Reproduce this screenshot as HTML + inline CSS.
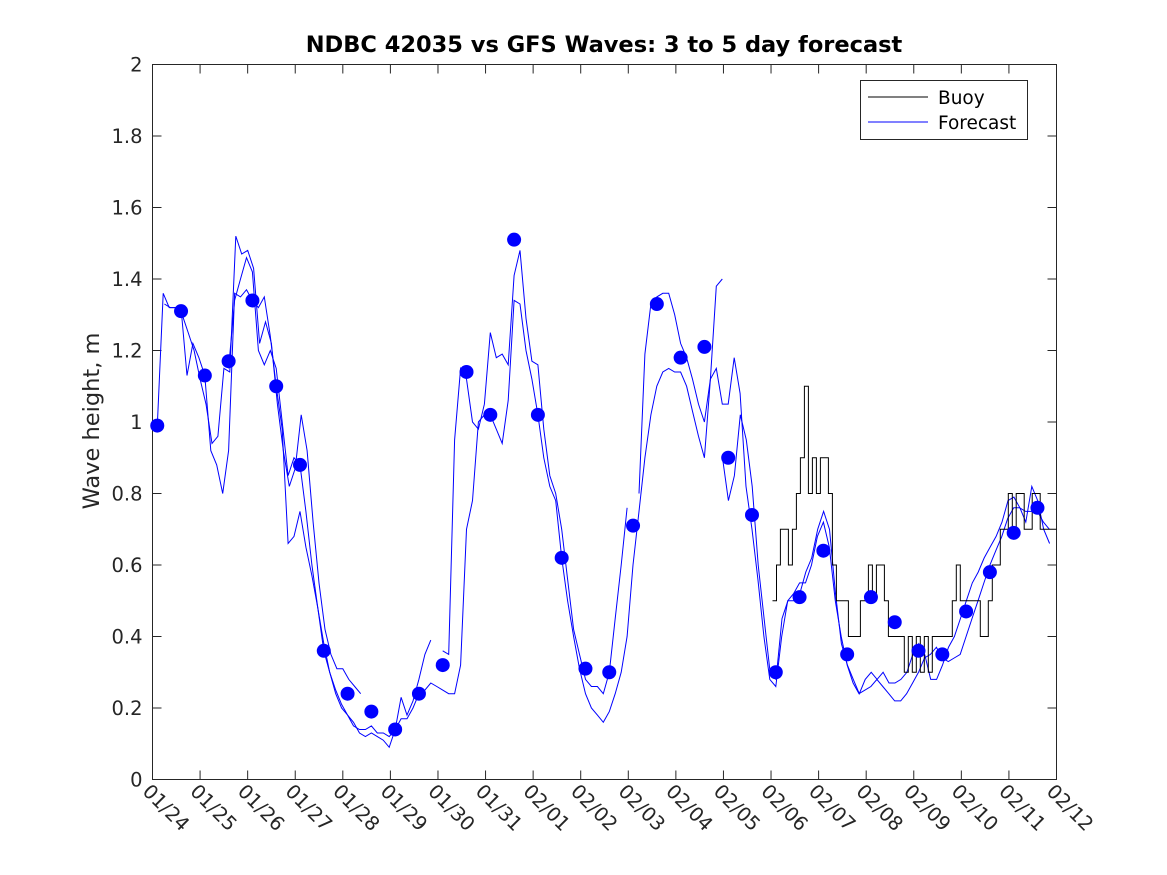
<!DOCTYPE html>
<html><head><meta charset="utf-8"><style>
html,body{margin:0;padding:0;background:#fff;}
svg{display:block;font-family:"DejaVu Sans","Liberation Sans",sans-serif;}
</style></head><body>
<svg id="chart" width="1167" height="875" viewBox="0 0 1167 875">
<rect x="0" y="0" width="1167" height="875" fill="#fff"/>
<rect x="152.5" y="64.5" width="904" height="715" fill="#fff"/>
<text x="604" y="52" text-anchor="middle" font-size="22.5" font-weight="bold" fill="#000">NDBC 42035 vs GFS Waves: 3 to 5 day forecast</text>
<text transform="translate(99,421) rotate(-90)" text-anchor="middle" font-size="22.5" fill="#262626">Wave height, m</text>
<g id="axes"></g>
<g id="marks"></g>
<rect x="860.5" y="80.5" width="167" height="59" fill="#fff" stroke="#262626" stroke-width="1"/>
<line x1="868" y1="97" x2="928" y2="97" stroke="#000" stroke-width="1"/>
<text x="938" y="104" font-size="18.5" fill="#000">Buoy</text>
<line x1="868" y1="122" x2="928" y2="122" stroke="#00f" stroke-width="1"/>
<text x="938" y="129" font-size="18.5" fill="#000">Forecast</text>
</svg>
<script>
const xTickLabels = ["01/24","01/25","01/26","01/27","01/28","01/29","01/30","01/31","02/01","02/02","02/03","02/04","02/05","02/06","02/07","02/08","02/09","02/10","02/11","02/12"];
const yTicks = [0,0.2,0.4,0.6,0.8,1,1.2,1.4,1.6,1.8,2];
const yTickLabels = ["0","0.2","0.4","0.6","0.8","1","1.2","1.4","1.6","1.8","2"];
const dotStart = 0.1, dotStep = 0.5;
const dotVals = [0.99,1.31,1.13,1.17,1.34,1.10,0.88,0.36,0.24,0.19,0.14,0.24,0.32,1.14,1.02,1.51,1.02,0.62,0.31,0.30,0.71,1.33,1.18,1.21,0.90,0.74,0.30,0.51,0.64,0.35,0.51,0.44,0.36,0.35,0.47,0.58,0.69,0.76];
const fcStep = 0.125;
const f1Start = 0.1;
const f1Vals = [0.99,1.36,1.32,1.32,1.32,1.13,1.22,1.18,1.13,0.92,0.88,0.80,0.92,1.36,1.35,1.37,1.34,1.32,1.35,1.24,1.10,0.98,0.66,0.68,0.75,0.65,0.57,0.48,0.36,0.30,0.25,0.21,0.18,0.16,0.13,0.12,0.13,0.12,0.11,0.09,0.14,0.17,0.17,0.20,0.24,0.25,0.27,0.26,0.25,0.24,0.24,0.32,0.70,0.78,1.00,1.02,1.02,0.98,0.94,1.06,1.34,1.33,1.20,1.12,1.02,0.90,0.82,0.78,0.62,0.50,0.40,0.31,0.24,0.20,0.18,0.16,0.19,0.24,0.30,0.40,0.60,0.75,0.90,1.02,1.10,1.14,1.15,1.14,1.14,1.10,1.03,0.96,0.90,1.12,1.38,1.40];
const f2Start = 0.25;
const f2Vals = [1.33,1.32,1.32,1.30,1.25,1.20,1.12,1.05,0.94,0.96,1.15,1.14,1.52,1.47,1.48,1.43,1.22,1.28,1.22,1.05,0.92,0.82,0.87,1.02,0.92,0.72,0.55,0.42,0.35,0.31,0.31,0.28,0.26,0.24];
const f3Start = 1.6;
const f3Vals = [1.15,1.34,1.40,1.46,1.42,1.20,1.16,1.20,1.15,1.00,0.85,0.90,0.88,0.75,0.60,0.48,0.38,0.30,0.24,0.20,0.18,0.15,0.14,0.14,0.15,0.13,0.13,0.12,0.14,0.23,0.18,0.22,0.28,0.35,0.39,null,0.36,0.35,0.95,1.15,1.12,1.00,0.98,1.05,1.25,1.18,1.19,1.16,1.41,1.48,1.29,1.17,1.16,0.98,0.85,0.80,0.70,0.56,0.42,0.35,0.28,0.26,0.26,0.24,0.30,0.45,0.60,0.76,null,0.80,1.19,1.33,1.35,1.36,1.36,1.30,1.22,1.18,1.12,1.05,1.00,1.12,1.15,1.05,1.05,1.18,1.08,0.82,0.70,0.56,0.40,0.28,0.26,0.40,0.50,0.52,0.55,0.55,0.60,0.68,0.72,0.65,0.50,0.40,0.32,0.27,0.24,0.25,0.26,0.28,0.26,0.24,0.22,0.22,0.24,0.27,0.30,0.34,0.35,0.37,0.34,0.33,0.34,0.35,0.40,0.45,0.50,0.55,0.60,0.64,0.68,0.73,0.76,0.76,0.75,0.75,0.75,0.72,0.70];
const f4Start = 11.98;
const f4Vals = [0.90,0.78,0.85,1.02,0.95,0.82,0.60,0.45,0.30,0.28,0.45,0.50,0.50,0.52,0.58,0.62,0.70,0.75,0.70,0.52,0.38,0.32,0.28,0.24,0.28,0.30,0.28,0.30,0.27,0.27,0.28,0.30,0.35,0.38,0.35,0.28,0.28,0.32,0.37,0.40,0.45,0.50,0.55,0.58,0.62,0.65,0.68,0.72,0.78,0.79,0.76,0.72,0.82,0.78,0.70,0.66];
const buoyStart = 13.03, buoyStep = 0.084;
const buoyVals = [0.5,0.6,0.7,0.7,0.6,0.7,0.8,0.9,1.1,0.8,0.9,0.8,0.9,0.9,0.8,0.6,0.5,0.5,0.5,0.4,0.4,0.4,0.5,0.5,0.6,0.5,0.6,0.6,0.5,0.4,0.4,0.4,0.4,0.3,0.4,0.3,0.4,0.3,0.4,0.3,0.4,0.4,0.4,0.4,0.4,0.5,0.6,0.5,0.5,0.5,0.5,0.5,0.4,0.4,0.5,0.6,0.6,0.7,0.7,0.8,0.7,0.8,0.8,0.7,0.7,0.8,0.8,0.7,0.7,0.7,0.7,0.7];

const X0=152.5, X1=1056.5, Y0=779.5, Y1=64.5;
function xs(d){return X0+(d/19)*(X1-X0);}
function ys(v){return Y0-(v/2)*(Y0-Y1);}
const NS="http://www.w3.org/2000/svg";
const axes=document.getElementById('axes'), marks=document.getElementById('marks');
function mk(tag,attrs,parent){const e=document.createElementNS(NS,tag);for(const k in attrs)e.setAttribute(k,attrs[k]);parent.appendChild(e);return e;}

const frame=mk('rect',{x:X0,y:Y1,width:X1-X0,height:Y0-Y1,fill:'none',stroke:'#262626','stroke-width':1},axes);


xTickLabels.forEach((lab,i)=>{
  const x=xs(i);
  const t1=mk('line',{x1:x,y1:Y0,x2:x,y2:Y0-9,stroke:'#262626'},axes);
  
  
  const t2=mk('line',{x1:x,y1:Y1,x2:x,y2:Y1+9,stroke:'#262626'},axes);
  
  
  const tx=mk('text',{transform:`translate(${x-11},${Y0+13}) rotate(45)`,'font-size':19.5,fill:'#262626'},axes);
  tx.textContent=lab;
  
  
});
yTicks.forEach((v,i)=>{
  const y=ys(v);
  const t1=mk('line',{x1:X0,y1:y,x2:X0+9,y2:y,stroke:'#262626'},axes);
  
  
  const t2=mk('line',{x1:X1,y1:y,x2:X1-9,y2:y,stroke:'#262626'},axes);
  
  
  const tx=mk('text',{x:X0-10,y:y+7,'text-anchor':'end','font-size':19.5,fill:'#262626'},axes);
  tx.textContent=yTickLabels[i];
  
  
});

function drawSeries(start,vals,name){
  let d='',pen=false;
  vals.forEach((v,i)=>{
    if(v===null){pen=false;return;}
    d+=(pen?'L':'M')+xs(start+i*fcStep).toFixed(1)+','+ys(v).toFixed(1);
    pen=true;
  });
  const p=mk('path',{d:d,fill:'none',stroke:'#00f','stroke-width':1},marks);
  
  
}
drawSeries(f1Start,f1Vals,'forecast-line-1');
drawSeries(f2Start,f2Vals,'forecast-line-2');
drawSeries(f3Start,f3Vals,'forecast-line-3');
drawSeries(f4Start,f4Vals,'forecast-line-4');

let bd='';
buoyVals.forEach((v,i)=>{
  const xa=xs(buoyStart+i*buoyStep), xb=xs(buoyStart+(i+1)*buoyStep);
  bd+=(i===0?'M':'L')+xa.toFixed(1)+','+ys(v).toFixed(1)+'L'+Math.min(xb,X1).toFixed(1)+','+ys(v).toFixed(1);
});
const bp=mk('path',{d:bd,fill:'none',stroke:'#000','stroke-width':1},marks);



dotVals.forEach((v,i)=>{
  const c=mk('circle',{cx:xs(dotStart+i*dotStep),cy:ys(v),r:7,fill:'#00f'},marks);
  
  
});
</script>
</body></html>
